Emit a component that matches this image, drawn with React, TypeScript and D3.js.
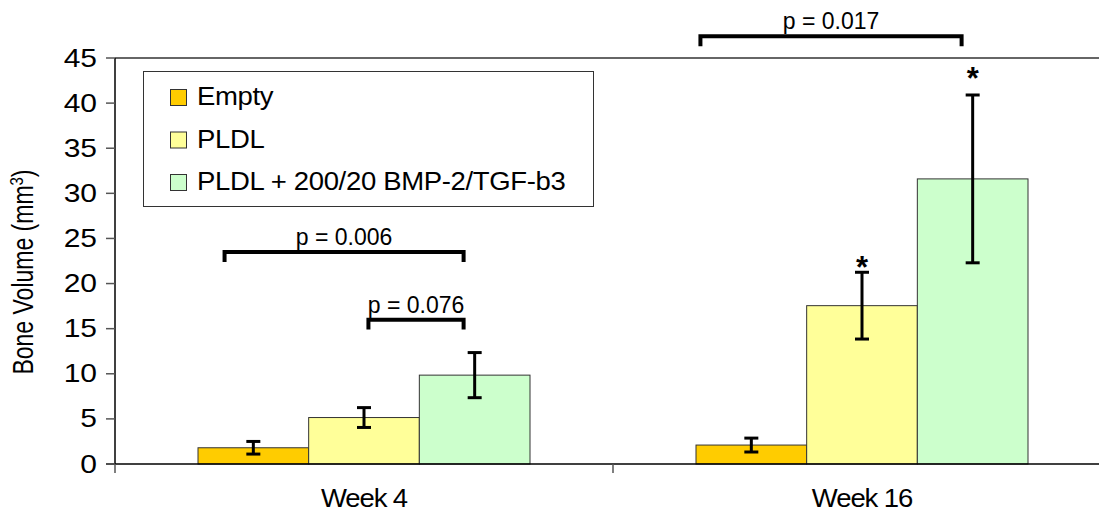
import React from 'react';
import * as d3 from 'd3';

const categories = ['Week 4', 'Week 16'];
const seriesNames = ['Empty', 'PLDL', 'PLDL + 200/20 BMP-2/TGF-b3'];
const seriesColors = ['#FFCC00', '#FFFF99', '#CCFFCC'];
// one value per category
const emptyValues = [1.8, 2.1];
const pldlValues = [5.15, 17.55];
const bmpValues = [9.85, 31.6];
const emptyErrors = [0.7, 0.77];
const pldlErrors = [1.1, 3.7];
const bmpErrors = [2.5, 9.3];
const yTicks = [0, 5, 10, 15, 20, 25, 30, 35, 40, 45];

// significance brackets: category, from/to series with position within bar (0..1)
const brackets = [
  { cat: 'Week 4', from: 0, fromFrac: 0.24, to: 2, toFrac: 0.4, y: 23.5, label: 'p = 0.006' },
  { cat: 'Week 4', from: 1, fromFrac: 0.54, to: 2, toFrac: 0.4, y: 16.0, label: 'p = 0.076' },
  { cat: 'Week 16', from: 0, fromFrac: 0.04, to: 2, toFrac: 0.4, y: 47.4, label: 'p = 0.017' },
];
const stars = [
  { cat: 'Week 16', series: 1, y: 22.5 },
  { cat: 'Week 16', series: 2, y: 43.5 },
];

const W = 1099;
const H = 515;
const margin = { left: 115, top: 58, bottom: 464, right: 1111 };
const font = 'Liberation Sans, Arial, sans-serif';

// text stretched horizontally like the original picture
const Stretch = ({ x, y, sx = 1, sy = 1, rotate = 0, anchor = 'start', size, children, ...rest }: any) => (
  <text
    transform={`translate(${x},${y}) rotate(${rotate}) scale(${sx},${sy})`}
    textAnchor={anchor}
    fontSize={size}
    {...rest}
  >
    {children}
  </text>
);

export default function App() {
  const values = [emptyValues, pldlValues, bmpValues];
  const errors = [emptyErrors, pldlErrors, bmpErrors];

  const y = d3.scaleLinear().domain([0, 45]).range([margin.bottom, margin.top]);
  const x0 = d3.scaleBand<string>().domain(categories).range([margin.left, margin.right]).paddingInner(0);
  const x1 = d3
    .scaleBand<number>()
    .domain(d3.range(seriesNames.length))
    .range([0, x0.bandwidth()])
    .paddingInner(0)
    .paddingOuter(0.75);
  const bw = x1.bandwidth();
  const legY = y(45) - y(46.1); // bracket leg length in px

  return (
    <svg
      width={W}
      height={H}
      style={{ position: 'absolute', left: 0, top: 0, background: '#fff' }}
      fontFamily={font}
    >
      {/* bars */}
      {categories.map((c, ci) =>
        seriesNames.map((s, si) => (
          <rect
            key={c + s}
            x={(x0(c) as number) + (x1(si) as number)}
            y={y(values[si][ci])}
            width={bw}
            height={y(0) - y(values[si][ci])}
            fill={seriesColors[si]}
            stroke="#333"
            strokeWidth={1}
          />
        ))
      )}

      {/* error bars */}
      {categories.map((c, ci) =>
        seriesNames.map((s, si) => {
          const cx = (x0(c) as number) + (x1(si) as number) + bw / 2;
          const hi = y(values[si][ci] + errors[si][ci]);
          const lo = y(values[si][ci] - errors[si][ci]);
          return (
            <g key={'e' + c + s} stroke="#000" strokeWidth={3}>
              <line x1={cx} x2={cx} y1={hi} y2={lo} />
              <line x1={cx - 7} x2={cx + 7} y1={hi} y2={hi} />
              <line x1={cx - 7} x2={cx + 7} y1={lo} y2={lo} />
            </g>
          );
        })
      )}

      {/* axes */}
      <line x1={margin.left} x2={W} y1={y(45)} y2={y(45)} stroke="#333" strokeWidth={1.5} />
      <line x1={margin.left} x2={margin.left} y1={y(45)} y2={y(0)} stroke="#000" strokeWidth={1.5} />
      <line x1={margin.left - 9} x2={W} y1={y(0)} y2={y(0)} stroke="#000" strokeWidth={1.5} />
      {yTicks.map((t) => (
        <g key={t}>
          <line x1={margin.left - 9} x2={margin.left} y1={y(t)} y2={y(t)} stroke="#555" strokeWidth={1.5} />
          <Stretch x={margin.left - 18} y={y(t) + 8.5} sx={1.2} anchor="end" size={25}>
            {t}
          </Stretch>
        </g>
      ))}
      {categories.map((c) => (
        <line
          key={'t' + c}
          x1={x0(c) as number}
          x2={x0(c) as number}
          y1={y(0)}
          y2={y(0) + 9}
          stroke="#555"
          strokeWidth={1.5}
        />
      ))}
      {categories.map((c) => (
        <Stretch
          key={'l' + c}
          x={(x0(c) as number) + x0.bandwidth() / 2}
          y={507}
          sx={1.1}
          anchor="middle"
          size={25}
          letterSpacing={-1}
        >
          {c}
        </Stretch>
      ))}

      <Stretch x={33} y={272} rotate={-90} sy={1.25} anchor="middle" size={23}>
        Bone Volume (mm
        <tspan fontSize={15} dy={-8}>
          3
        </tspan>
        <tspan dy={8}>)</tspan>
      </Stretch>

      {/* brackets */}
      {brackets.map((b) => {
        const xa = (x0(b.cat) as number) + (x1(b.from) as number) + bw * b.fromFrac;
        const xb = (x0(b.cat) as number) + (x1(b.to) as number) + bw * b.toFrac;
        const yy = y(b.y);
        return (
          <g key={b.label}>
            <path
              d={`M${xa},${yy + legY} V${yy} H${xb} V${yy + legY}`}
              fill="none"
              stroke="#000"
              strokeWidth={4}
            />
            <text x={(xa + xb) / 2} y={yy - 7} textAnchor="middle" fontSize={23}>
              {b.label}
            </text>
          </g>
        );
      })}

      {/* stars */}
      {stars.map((s, i) => (
        <text
          key={'s' + i}
          x={(x0(s.cat) as number) + (x1(s.series) as number) + bw / 2}
          y={y(s.y)}
          dy="0.55em"
          textAnchor="middle"
          fontSize={31}
          fontWeight="bold"
        >
          *
        </text>
      ))}

      {/* legend */}
      <rect x={143.5} y={71.5} width={450} height={135} fill="#fff" stroke="#333" strokeWidth={1} />
      {seriesNames.map((s, i) => (
        <g key={'lg' + s}>
          <rect x={170.5} y={89.5 + i * 42.5} width={16} height={16} fill={seriesColors[i]} stroke="#333" strokeWidth={1} />
          <Stretch x={197} y={105 + i * 42.5} sx={1.1} size={25} letterSpacing={-0.3}>
            {s}
          </Stretch>
        </g>
      ))}
    </svg>
  );
}
